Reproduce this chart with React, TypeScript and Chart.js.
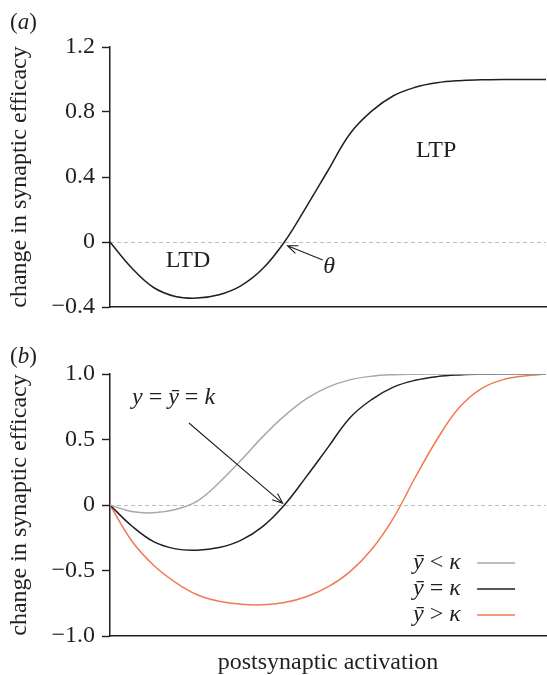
import React, { useEffect, useRef } from 'react';
import { Chart, registerables } from 'chart.js';

Chart.register(...registerables);

// ---------- data ----------
const X = [0, 5, 10, 15, 20, 25, 30, 35, 40, 45, 50, 55, 60, 65, 70, 75, 80, 85, 90, 95, 100];
// y = ȳ = κ  (also panel a)
const EQUAL = [0, -0.16, -0.28, -0.335, -0.345, -0.325, -0.27, -0.165, 0, 0.215, 0.44, 0.665, 0.805, 0.9, 0.952, 0.98, 0.993, 0.998, 1, 1, 1];
// ȳ < κ
const BELOW = [0, -0.05, -0.06, -0.035, 0.03, 0.17, 0.34, 0.52, 0.68, 0.81, 0.9, 0.955, 0.983, 0.995, 0.999, 1, 1, 1, 1, 1, 1];
// ȳ > κ
const ABOVE = [0, -0.275, -0.46, -0.59, -0.685, -0.735, -0.757, -0.762, -0.745, -0.7, -0.625, -0.51, -0.34, -0.1, 0.21, 0.5, 0.74, 0.885, 0.955, 0.985, 1];

const TICKS_A = [-0.4, 0, 0.4, 0.8, 1.2];
const LABELS_A = ['\u22120.4', '0', '0.4', '0.8', '1.2'];
const TICKS_B = [-1, -0.5, 0, 0.5, 1];
const LABELS_B = ['\u22121.0', '\u22120.5', '0', '0.5', '1.0'];

const Y_TITLE = 'change in synaptic efficacy';
const X_TITLE = 'postsynaptic activation';

const INK = '#231f20';
const GRAY = '#a8a8a8';
const ORANGE = '#f07a52';
const FAMILY = '"Liberation Serif", "DejaVu Serif", "Times New Roman", serif';

type Seg = [string, boolean];

function drawRich(ctx: CanvasRenderingContext2D, segs: Seg[], x: number, y: number, size: number, align: 'left' | 'center' = 'left') {
  const fontFor = (it: boolean) => `${it ? 'italic ' : ''}${size}px ${FAMILY}`;
  let total = 0;
  const widths = segs.map(([t, it]) => {
    ctx.font = fontFor(it);
    const w = ctx.measureText(t).width;
    total += w;
    return w;
  });
  let cx = align === 'center' ? x - total / 2 : x;
  ctx.textAlign = 'left';
  ctx.textBaseline = 'alphabetic';
  segs.forEach(([t, it], i) => {
    ctx.font = fontFor(it);
    ctx.fillText(t, cx, y);
    cx += widths[i];
  });
}

function drawArrow(ctx: CanvasRenderingContext2D, x1: number, y1: number, x2: number, y2: number) {
  const ang = Math.atan2(y2 - y1, x2 - x1);
  const head = 11;
  const spread = 0.38;
  ctx.beginPath();
  ctx.moveTo(x1, y1);
  ctx.lineTo(x2, y2);
  ctx.moveTo(x2 - head * Math.cos(ang - spread), y2 - head * Math.sin(ang - spread));
  ctx.lineTo(x2, y2);
  ctx.lineTo(x2 - head * Math.cos(ang + spread), y2 - head * Math.sin(ang + spread));
  ctx.strokeStyle = INK;
  ctx.lineWidth = 1.1;
  ctx.stroke();
}

function zeroLine(chart: any) {
  const { ctx, chartArea, scales } = chart;
  const y = Math.round(scales.y.getPixelForValue(0)) + 0.5;
  ctx.save();
  ctx.strokeStyle = '#bdbdbd';
  ctx.lineWidth = 1;
  ctx.setLineDash([4, 3]);
  ctx.beginPath();
  ctx.moveTo(chartArea.left, y);
  ctx.lineTo(chartArea.right, y);
  ctx.stroke();
  ctx.restore();
}

const pts = (ys: number[]) => X.map((x, i) => ({ x, y: ys[i] }));

function yScale(min: number, max: number, ticks: number[], labels: string[]) {
  return {
    type: 'linear',
    min,
    max,
    afterBuildTicks: (s: any) => {
      s.ticks = ticks.map((v) => ({ value: v }));
    },
    afterFit: (s: any) => {
      s.width = 110;
    },
    ticks: {
      font: { family: FAMILY, size: 24 },
      color: INK,
      padding: 7,
      callback: (_v: any, i: number) => labels[i],
    },
    grid: { drawOnChartArea: false, drawTicks: true, tickLength: 8, tickColor: INK, tickWidth: 1.4 },
    border: { display: true, color: INK, width: 1.5 },
    title: {
      display: true,
      text: Y_TITLE,
      color: INK,
      font: { family: FAMILY, size: 24, lineHeight: 1 },
      padding: { top: 8, bottom: 0 },
    },
  };
}

function xScale(height: number, withTitle: boolean) {
  return {
    type: 'linear',
    min: 0,
    max: 100,
    afterFit: (s: any) => {
      s.height = height;
    },
    ticks: { display: false },
    grid: { display: false, drawTicks: false },
    border: { display: true, color: INK, width: 1.5 },
    title: {
      display: withTitle,
      text: X_TITLE,
      color: INK,
      font: { family: FAMILY, size: 24, lineHeight: 1 },
      padding: { top: 0, bottom: 0 },
    },
  };
}

const lineDs = (label: string, ys: number[], color: string) => ({
  label,
  data: pts(ys),
  borderColor: color,
  backgroundColor: color,
  borderWidth: 1.5,
  pointRadius: 0,
  fill: false,
  tension: 0.4,
});

const LEGEND: { segs: Seg[]; color: string; yv: number }[] = [
  { segs: [['\u0233', true], [' < ', false], ['\u03BA', true]], color: GRAY, yv: -0.443 },
  { segs: [['\u0233', true], [' = ', false], ['\u03BA', true]], color: INK, yv: -0.641 },
  { segs: [['\u0233', true], [' > ', false], ['\u03BA', true]], color: ORANGE, yv: -0.84 },
];

export default function App() {
  const refA = useRef<HTMLCanvasElement>(null);
  const refB = useRef<HTMLCanvasElement>(null);

  useEffect(() => {
    const annotA = {
      id: 'annotA',
      beforeDatasetsDraw(chart: any) {
        zeroLine(chart);
      },
      afterDatasetsDraw(chart: any) {
        const { ctx, scales } = chart;
        const { x, y } = scales;
        ctx.save();
        ctx.fillStyle = INK;
        drawRich(ctx, [['LTD', false]], x.getPixelForValue(17.9), y.getPixelForValue(-0.156), 24, 'center');
        drawRich(ctx, [['LTP', false]], x.getPixelForValue(74.8), y.getPixelForValue(0.525), 24, 'center');
        drawRich(ctx, [['\u03B8', true]], x.getPixelForValue(48.9), y.getPixelForValue(-0.191), 24, 'left');
        drawArrow(ctx, x.getPixelForValue(48.8), y.getPixelForValue(-0.111), x.getPixelForValue(40.7), y.getPixelForValue(-0.023));
        ctx.fillStyle = INK;
        drawRich(ctx, [['(', false], ['a', true], [')', false]], 10, 29, 23, 'left');
        ctx.restore();
      },
    };

    const annotB = {
      id: 'annotB',
      beforeDatasetsDraw(chart: any) {
        zeroLine(chart);
      },
      afterDatasetsDraw(chart: any) {
        const { ctx, scales } = chart;
        const { x, y } = scales;
        ctx.save();
        ctx.fillStyle = INK;
        drawRich(
          ctx,
          [['y', true], [' = ', false], ['\u0233', true], [' = ', false], ['k', true]],
          x.getPixelForValue(5.05),
          y.getPixelForValue(0.771),
          24,
          'left'
        );
        drawArrow(ctx, x.getPixelForValue(18.1), y.getPixelForValue(0.626), x.getPixelForValue(39.6), y.getPixelForValue(0.013));
        LEGEND.forEach((row) => {
          const cy = y.getPixelForValue(row.yv);
          ctx.fillStyle = INK;
          drawRich(ctx, row.segs, x.getPixelForValue(69.5), cy + 6, 24, 'left');
          ctx.beginPath();
          ctx.moveTo(x.getPixelForValue(84.2), cy);
          ctx.lineTo(x.getPixelForValue(92.9), cy);
          ctx.strokeStyle = row.color;
          ctx.lineWidth = 1.5;
          ctx.stroke();
        });
        ctx.fillStyle = INK;
        drawRich(ctx, [['(', false], ['b', true], [')', false]], 10, 33, 23, 'left');
        ctx.restore();
      },
    };

    const chartA = new Chart(refA.current as HTMLCanvasElement, {
      type: 'line',
      data: { datasets: [lineDs('y = \u0233 = \u03BA', EQUAL, INK)] as any },
      options: {
        animation: false,
        responsive: false,
        layout: { padding: { top: 47, left: 0, right: 1, bottom: 0 } },
        plugins: { legend: { display: false }, tooltip: { enabled: false } },
        scales: {
          x: xScale(23, false) as any,
          y: yScale(-0.4, 1.2, TICKS_A, LABELS_A) as any,
        },
      },
      plugins: [annotA],
    });

    const chartB = new Chart(refB.current as HTMLCanvasElement, {
      type: 'line',
      data: {
        datasets: [
          lineDs('\u0233 < \u03BA', BELOW, GRAY),
          lineDs('\u0233 = \u03BA', EQUAL, INK),
          lineDs('\u0233 > \u03BA', ABOVE, ORANGE),
        ] as any,
      },
      options: {
        animation: false,
        responsive: false,
        layout: { padding: { top: 44, left: 0, right: 1, bottom: 0 } },
        plugins: { legend: { display: false }, tooltip: { enabled: false } },
        scales: {
          x: xScale(39, true) as any,
          y: yScale(-1, 1, TICKS_B, LABELS_B) as any,
        },
      },
      plugins: [annotB],
    });

    return () => {
      chartA.destroy();
      chartB.destroy();
    };
  }, []);

  return (
    <div style={{ position: 'absolute', left: 0, top: 0, width: 547, height: 675, background: '#fff' }}>
      <canvas ref={refA} width={547} height={330} style={{ position: 'absolute', left: 0, top: 0 }} />
      <canvas ref={refB} width={547} height={345} style={{ position: 'absolute', left: 0, top: 330 }} />
    </div>
  );
}
